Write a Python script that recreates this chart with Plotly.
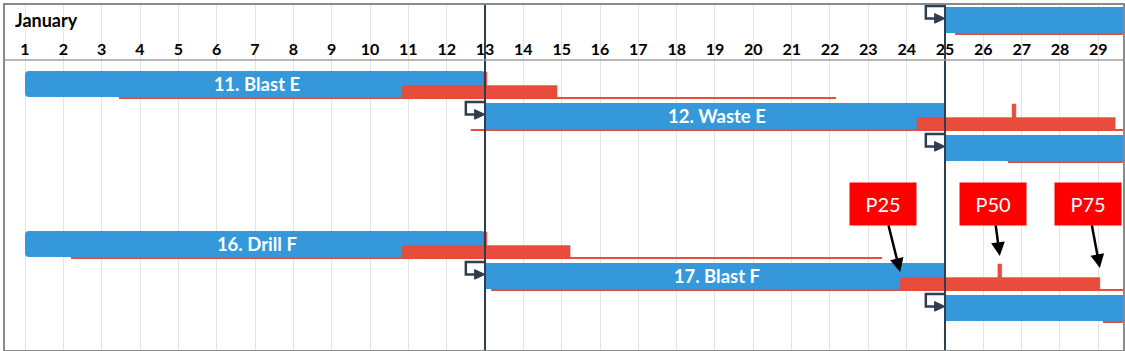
import plotly.graph_objects as go

# ---------------- data ----------------
month_label = "January"
days = list(range(1, 30))
day_labels = [str(d) for d in days]

# task bars (row index, start day, end day, label)
task_rows = [0, 2, 3, 4, 7, 8, 9]
task_start = [25, 1, 13, 25, 1, 13, 25]
task_end = [31, 13, 25, 31, 13, 25, 31]
task_names = ["", "11. Blast E", "12. Waste E", "", "16. Drill F", "17. Blast F", ""]

# duration distribution overlays (min, P25, P50, P75, max) in days
dist_rows = [0, 2, 3, 4, 7, 8, 9]
dist_min = [25.26, 3.45, 12.63, 26.64, 2.2, 13.16, 29.12]
dist_p25 = [None, 10.84, 24.27, None, 10.84, 23.83, None]
dist_p50 = [None, 13.0, 26.8, None, 13.0, 26.43, None]
dist_p75 = [None, 14.88, 29.44, None, 15.22, 29.04, None]
dist_max = [31, 22.16, 31, 31, 23.36, 31, 31]

# dependency connectors (rows whose task starts from a predecessor)
link_rows = [0, 3, 4, 8, 9]
link_start = [25, 13, 25, 13, 25]

# milestone / status lines
milestone_days = [13, 25]

# percentile callouts on the "17. Blast F" row
callout_labels = ["P25", "P50", "P75"]
callout_row_idx = 5

# ---------------- styling ----------------
BLUE = "#3498db"
RED = "#e74c3c"
DARK = "#2c3e50"
FONT = "Lato"

fig = go.Figure()

# blue task bars
for rounded in (True, False):
    idx = [i for i in range(len(task_rows)) if (task_start[i] == 1) == rounded]
    fig.add_trace(go.Bar(
        orientation="h",
        y=[task_rows[i] for i in idx],
        base=[task_start[i] for i in idx],
        x=[task_end[i] - task_start[i] for i in idx],
        marker=dict(color=BLUE, line=dict(width=0), cornerradius=4 if rounded else 0),
        width=0.81,
        hoverinfo="skip",
        showlegend=False,
    ))

# task labels (centred on each visible bar)
lab_idx = [i for i in range(len(task_rows)) if task_names[i]]
fig.add_trace(go.Scatter(
    x=[(task_start[i] + task_end[i]) / 2 + 0.05 for i in lab_idx],
    y=[task_rows[i] + 0.07 for i in lab_idx],
    text=[task_names[i] for i in lab_idx],
    mode="text",
    textfont=dict(family=FONT, size=18.5, color="white", weight="bold"),
    hoverinfo="skip", showlegend=False,
))

# distribution overlays
BASE_OFF = 0.44
TOP_OFF = 0.05
SPIKE_OFF = -0.375
SPW = 0.05
for i, r in enumerate(dist_rows):
    # thin range line
    fig.add_trace(go.Scatter(
        x=[dist_min[i], dist_max[i]], y=[r + BASE_OFF, r + BASE_OFF],
        mode="lines", line=dict(color=RED, width=2), hoverinfo="skip", showlegend=False,
    ))
    if dist_p25[i] is not None:
        p25, p50, p75 = dist_p25[i], dist_p50[i], dist_p75[i]
        b, t, s = r + BASE_OFF, r + TOP_OFF, r + SPIKE_OFF
        xs = [p25, p25, p50 - SPW, p50 - SPW, p50 + SPW, p50 + SPW, p75, p75, p25]
        ys = [b, t, t, s, s, t, t, b, b]
        fig.add_trace(go.Scatter(
            x=xs, y=ys, mode="lines", fill="toself", fillcolor=RED,
            line=dict(color=RED, width=0.5), hoverinfo="skip", showlegend=False,
        ))

# dependency connectors
for r, s in zip(link_rows, link_start):
    fig.add_trace(go.Scatter(
        x=[s, s - 0.5, s - 0.5, s - 0.2], y=[r - 0.44, r - 0.44, r - 0.05, r - 0.05],
        mode="lines", line=dict(color=DARK, width=2.5), hoverinfo="skip", showlegend=False,
    ))
    fig.add_trace(go.Scatter(
        x=[s - 0.27, s, s - 0.27, s - 0.27], y=[r - 0.2, r - 0.05, r + 0.1, r - 0.2],
        mode="lines", fill="toself", fillcolor=DARK, line=dict(color=DARK, width=1),
        hoverinfo="skip", showlegend=False,
    ))

# day labels row
fig.add_trace(go.Scatter(
    x=days, y=[0.98] * len(days), text=day_labels, mode="text",
    textfont=dict(family=FONT, size=16, color="black", weight="bold"),
    hoverinfo="skip", showlegend=False,
))

# milestone lines
for d in milestone_days:
    fig.add_shape(type="line", xref="x", yref="paper", x0=d, x1=d, y0=0, y1=1,
                  line=dict(color=DARK, width=2), layer="above")

# header separator
fig.add_shape(type="line", xref="paper", yref="y", x0=0, x1=1, y0=1.25, y1=1.25,
              line=dict(color="#a0a0a0", width=1.5), layer="above")

# month label
fig.add_annotation(text=month_label, x=0.69, y=0.0, xref="x", yref="y",
                   xanchor="left", yanchor="middle", showarrow=False,
                   font=dict(family=FONT, size=18, color="black", weight="bold"))

# percentile callouts
ci = callout_row_idx
r = dist_rows[ci]
targets = [
    (dist_p25[ci], r - 0.125, -17, -68),
    (dist_p50[ci], r - 0.625, -7, -52),
    (dist_p75[ci], r - 0.25, -12, -64),
]
for lab, (tx, ty, ax, ay) in zip(callout_labels, targets):
    fig.add_annotation(
        text=lab, x=tx, y=ty, xref="x", yref="y", ax=ax, ay=ay,
        showarrow=True, arrowhead=2, arrowsize=1.1, arrowwidth=2.5, arrowcolor="black",
        standoff=0, bgcolor="#ff0000", width=64, height=40,
        font=dict(family=FONT, size=20, color="white"),
    )

fig.update_layout(
    width=1125, height=351,
    margin=dict(l=5, r=2, t=5, b=1),
    paper_bgcolor="white", plot_bgcolor="white",
    barmode="overlay",
    showlegend=False,
    xaxis=dict(range=[1 - 20 / 38.333, 1 + 1098 / 38.333], tick0=1, dtick=1,
               showgrid=True, gridcolor="#e4e4e4", gridwidth=1,
               showticklabels=False, ticks="", zeroline=False,
               showline=True, mirror=True, linecolor="#8a8a8a", linewidth=1.5),
    yaxis=dict(range=[10.3125, -0.469], showgrid=False, showticklabels=False,
               ticks="", zeroline=False,
               showline=True, mirror=True, linecolor="#8a8a8a", linewidth=1.5),
)

fig.write_html("out.html")
